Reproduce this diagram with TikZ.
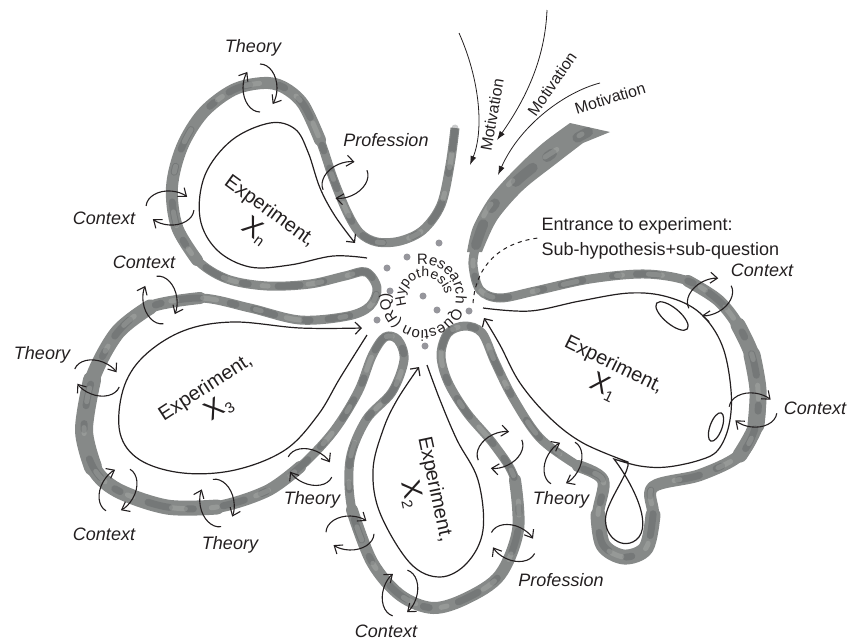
\documentclass[tikz,border=0pt]{standalone}
\usepackage{fontspec}
\setmainfont{Liberation Sans}
\usepackage{xcolor}
\usetikzlibrary{arrows.meta,decorations.text}

\definecolor{ribbon}{RGB}{134,137,136}
\definecolor{ribbondk}{RGB}{80,84,86}
\definecolor{ribbonlt}{RGB}{200,202,196}
\definecolor{dotgray}{RGB}{150,150,156}
\definecolor{ink}{RGB}{35,31,32}

\newcommand{\expX}[1]{{\fontsize{27}{27}\selectfont X}\raisebox{-4pt}{\fontsize{15}{15}\selectfont #1}}

\tikzset{
  band/.style={line width=9pt,draw=ribbon,line join=round,line cap=round},
  band dark/.style={line width=7pt,draw=ribbondk,line cap=round,dash pattern=on 22pt off 18pt on 6pt off 30pt,opacity=.3},
  band light/.style={line width=5pt,draw=ribbonlt,line cap=round,dash pattern=on 6pt off 40pt on 14pt off 26pt,dash phase=20pt,opacity=.25},
  petal/.style={line width=1.2pt,draw=ink,-{Straight Barb[length=6pt,width=12pt]}},
  lbl/.style={font=\fontsize{18}{20}\selectfont\itshape,text=ink},
  expt/.style={font=\fontsize{20}{26}\selectfont,text=ink,align=center},
  motiv/.style={font=\fontsize{16}{18}\selectfont,text=ink},
  mot/.style={line width=0.8pt,draw=ink,-{Latex[length=9pt,width=6pt]}},
  exch/.pic={
    \draw[line width=1.1pt,draw=ink,-{Straight Barb[length=7pt,width=11pt]}] (90:17 and 24) arc[start angle=90,end angle=222,x radius=17,y radius=24];
    \draw[line width=1.1pt,draw=ink,-{Straight Barb[length=7pt,width=11pt]}] (270:17 and 24) arc[start angle=270,end angle=402,x radius=17,y radius=24];
  }
}

\begin{document}
\begin{tikzpicture}[x=1pt,y=-1pt]
\useasboundingbox (0,0) rectangle (851,643);

\path[save path=\ribbonpath] plot[smooth,tension=0.55] coordinates {
 (455,128) (450,165) (441,205) (423,230) (400,241) (377,242) (360,233)
 (347,212) (333,178) (320,140) (303,104) (283,87) (263,83) (233,90)
 (203,113) (182,147) (172,187) (177,227) (197,260) (227,279) (267,286)
 (310,284) (345,276) (366,272) (377,288) (370,306) (348,316) (300,320)
 (250,308) (200,298) (150,307) (117,333) (92,380) (84,430) (93,467)
 (117,490) (167,507) (217,507) (267,491) (300,467) (333,432) (358,392)
 (372,356) (385,337) (398,340) (404,360) (392,392) (366,420) (350,460)
 (352,510) (372,562) (400,595) (433,608) (467,598) (500,575) (518,530)
 (515,480) (495,446) (467,413) (448,382) (441,355) (448,333) (465,326)
 (482,333) (495,362) (513,398) (540,438) (578,466) (603,480) (598,515)
 (603,545) (624,557) (646,548) (653,515) (653,487) (700,475) (740,455)
 (756,425) (758,390) (752,355) (738,325) (718,300) (688,281) (645,274)
 (590,279) (535,291) (500,298) (480,290) (473,265) (476,245)};
\draw[band,line cap=butt,use path=\ribbonpath];
\draw[band,line width=12pt] plot[smooth,tension=0.55] coordinates {(320,140) (303,104) (283,87) (263,83) (233,90) (203,113) (182,147) (172,187) (177,227) (197,260)};
\draw[band,line width=12pt] plot[smooth,tension=0.55] coordinates {(200,298) (150,307) (117,333) (92,380) (84,430) (93,467) (117,490) (167,507) (217,507) (267,491) (300,467)};
\draw[band,line width=12pt] plot[smooth,tension=0.55] coordinates {(352,510) (372,562) (400,595) (433,608) (467,598) (500,575) (518,530) (515,480)};
\draw[band,line width=12pt] plot[smooth,tension=0.55] coordinates {(578,466) (603,480) (598,515) (603,545) (624,557) (646,548) (653,515) (653,487) (700,475) (740,455) (756,425) (758,390) (752,355) (738,325) (718,300) (688,281)};
\draw[band,line width=15pt] plot[smooth,tension=0.55] coordinates {(150,307) (117,333) (92,380) (84,430) (93,467) (117,490) (167,507) (217,507)};
\draw[band,line width=15pt] plot[smooth,tension=0.55] coordinates {(598,515) (603,545) (624,557) (646,548) (653,515)};
\draw[band,line width=15pt] plot[smooth,tension=0.55] coordinates {(740,455) (756,425) (758,390) (752,355) (738,325)};
\draw[band,line width=18pt] plot[smooth,tension=0.55] coordinates {(92,380) (84,430) (93,467)};
\draw[band,line width=17pt] plot[smooth,tension=0.55] coordinates {(756,425) (758,390) (752,355)};
\draw[band dark,use path=\ribbonpath];
\draw[band light,use path=\ribbonpath];

\fill[ribbon] plot[smooth] coordinates {(467,252) (473,227) (490,197) (517,167) (543,143) (570,123)}
  -- (610,132) -- plot[smooth] coordinates {(583,143) (557,163) (523,190) (497,220) (482,252)} -- cycle;
\draw[band dark,line width=10pt] plot[smooth] coordinates {(476,245) (490,210) (520,178) (560,148) (588,132)};
\draw[band light,line width=5pt] plot[smooth] coordinates {(474,240) (488,208) (518,176) (556,150) (582,134)};

\draw[petal] plot[smooth,tension=0.6] coordinates {(367,258) (333,256) (290,265) (250,267) (217,250)
  (200,218) (205,175) (232,140) (270,123) (295,129) (308,152) (320,188) (335,216) (355,243)};
\draw[petal] plot[smooth,tension=0.6] coordinates {(367,335) (340,378) (318,415) (285,450) (235,470)
  (183,473) (140,460) (120,433) (123,390) (143,357) (183,331) (233,322) (300,328) (362,328)};
\draw[petal] plot[smooth,tension=0.6] coordinates {(427,365) (440,400) (457,440) (478,480) (483,530)
  (467,563) (440,577) (410,563) (380,513) (373,470) (383,430) (397,400) (419,367)};
\draw[petal] plot[smooth,tension=0.6] coordinates {(483,308) (530,311) (580,301) (630,293) (668,297)
  (700,313) (722,345) (731,390) (729,425) (718,450) (700,460) (667,467) (640,466) (614,459)}
  .. controls (630,480) and (655,525) .. (636,540)
  .. controls (620,552) and (598,532) .. (608,508)
  .. controls (615,490) and (630,470) .. (628,462)
  -- plot[smooth,tension=0.6] coordinates {(628,462) (583,443) (550,418) (520,383) (500,345) (484,318)};
\draw[line width=1.2pt,ink,rotate around={-40:(672,316)}] (672,316) ellipse[x radius=20,y radius=8];
\draw[line width=1.2pt,ink,rotate around={70:(716,427)}] (716,427) ellipse[x radius=15,y radius=6];

\pic (ic1) at (260,88) {exch};
\pic[rotate=-66] (ic2) at (345,180) {exch};
\pic[rotate=-95] (ic3) at (170,208) {exch};
\pic[rotate=8] (ic4) at (160,300) {exch};
\pic[rotate=-112] (ic5) at (97,378) {exch};
\pic[rotate=-30] (ic6) at (118,490) {exch};
\pic[rotate=10] (ic7) at (217,503) {exch};
\pic[rotate=-115] (ic8) at (310,467) {exch};
\pic[rotate=-92] (ic9) at (350,533) {exch};
\pic[rotate=-18] (ic10) at (400,593) {exch};
\pic[rotate=-116] (ic11) at (513,543) {exch};
\pic[rotate=-65] (ic12) at (500,450) {exch};
\pic[rotate=-30] (ic13) at (563,463) {exch};
\pic[rotate=-98] (ic14) at (753,410) {exch};
\pic[rotate=-62] (ic15) at (710,297) {exch};

\foreach \x/\y in {439/243,407/257,387/268,390/291,423/296,437/310,469/311,377/320,425/346}
  \fill[dotgray] (\x,\y) circle[radius=3.5];
\path[decorate,decoration={text along path,text align=left,
  text={|\fontsize{15}{17}\selectfont\color{ink}|Research Question (RQ)}}]
  (417.27,264.5) arc[start angle=-100,end angle=200,radius=33];
\path[decorate,decoration={text along path,text align=left,
  text={|\fontsize{14}{16}\selectfont\color{ink}|Hypothesis}}]
  (406.87,305.45) arc[start angle=-205,end angle=10,radius=20];

\node[expt,rotate=-36] (xn) at (262,222) {Experiment,\\\expX{n}};
\node[expt,rotate=33] (x3) at (213,399) {Experiment,\\\expX{3}};
\node[expt,rotate=-78] (x2) at (422,492) {Experiment,\\\expX{2}};
\node[expt,rotate=-26] (x1) at (608,377) {Experiment,\\\expX{1}};

\node[lbl] (thy1) at (253,48) {Theory};
\node[lbl] (prof1) at (386,140) {Profession};
\node[lbl] (ctx1) at (104,218) {Context};
\node[lbl] (ctx2) at (144,262) {Context};
\node[lbl] (thy2) at (42,355) {Theory};
\node[lbl] (ctx3) at (104,534) {Context};
\node[lbl] (thy3) at (230,545) {Theory};
\node[lbl] (thy4) at (312,500) {Theory};
\node[lbl] (ctx4) at (386,631) {Context};
\node[lbl] (prof2) at (561,580) {Profession};
\node[lbl] (thy5) at (561,500) {Theory};
\node[lbl] (ctx5) at (815,408) {Context};
\node[lbl] (ctx6) at (762,270) {Context};

\node[font=\fontsize{18}{25}\selectfont,text=ink,align=left,anchor=west] (entr) at (538,238)
  {Entrance to experiment:\\Sub-hypothesis+sub-question};
\coordinate (gate) at (473,303);
\draw[ink,line width=1pt,dash pattern=on 4pt off 4pt] (gate) .. controls (476,265) and (500,243) .. (entr.west);

\coordinate (mo1) at (459,33);
\coordinate (mi1) at (470,165);
\coordinate (mo2) at (547,10);
\coordinate (mi2) at (497,140);
\coordinate (mo3) at (600,83);
\coordinate (mi3) at (498,175);
\draw[mot] (mo1) .. controls (480,80) and (484,130) .. (mi1);
\draw[mot] (mo2) .. controls (545,60) and (525,100) .. (mi2);
\draw[mot] (mo3) .. controls (565,92) and (520,125) .. (mi3);
\node[motiv,rotate=80] (mv1) at (492,115) {Motivation};
\node[motiv,rotate=55] (mv2) at (552,84) {Motivation};
\node[motiv,rotate=17] (mv3) at (610,98) {Motivation};
\end{tikzpicture}
\end{document}
